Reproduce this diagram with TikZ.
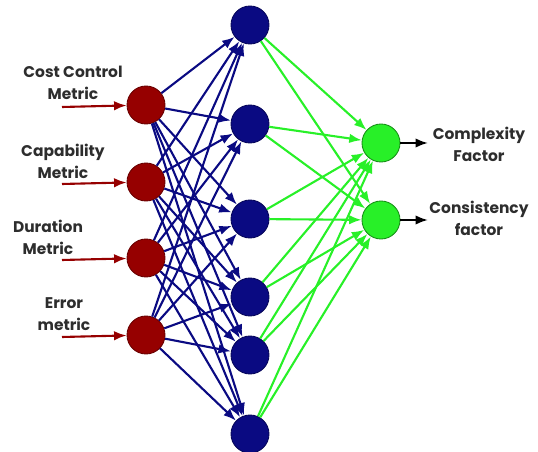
\documentclass[tikz,border=0pt]{standalone}
\usepackage{fontspec}
\newfontfamily\labelfont{Poppins}
\usetikzlibrary{arrows.meta}
\definecolor{inred}{RGB}{150,0,0}
\definecolor{hidblue}{RGB}{10,10,130}
\definecolor{outgreen}{RGB}{40,240,40}
\definecolor{txtgray}{RGB}{45,45,45}

\begin{document}
\begin{tikzpicture}[x=0.02cm, y=-0.02cm,
    neuron/.style={circle, minimum size=0.76cm, inner sep=0pt, line width=0.5pt},
    inneuron/.style={neuron, fill=inred, draw=inred!70!black},
    hidneuron/.style={neuron, fill=hidblue, draw=hidblue!70!black},
    outneuron/.style={neuron, fill=outgreen, draw=outgreen!60!black},
    lbl/.style={align=center, text=txtgray, font=\labelfont\bfseries\fontsize{8.8}{12.5}\selectfont},
    tip/.style={-{Latex[length=2.5mm, width=1.9mm]}, line width=1.2pt}]
  \useasboundingbox (0,0) rectangle (538,452);

  % input layer
  \node[inneuron] (in1) at (146,105) {};
  \node[inneuron] (in2) at (146,182) {};
  \node[inneuron] (in3) at (146,258) {};
  \node[inneuron] (in4) at (146,335) {};

  % hidden layer
  \node[hidneuron] (h1) at (250,25) {};
  \node[hidneuron] (h2) at (250,124) {};
  \node[hidneuron] (h3) at (250,219) {};
  \node[hidneuron] (h4) at (250,297) {};
  \node[hidneuron] (h5) at (250,355) {};
  \node[hidneuron] (h6) at (250,434) {};

  % output layer
  \node[outneuron] (out1) at (381,143) {};
  \node[outneuron] (out2) at (381,220) {};

  \node[lbl] (l1) at (73,83) {Cost Control\\Metric};
  \node[lbl] (l2) at (63,161) {Capability\\Metric};
  \node[lbl] (l3) at (48,237) {Duration\\Metric};
  \node[lbl] (l4) at (64,314) {Error\\metric};
  \node[lbl] (l5) at (479,144) {Complexity\\Factor};
  \node[lbl] (l6) at (479,218) {Consistency\\factor};

  \foreach \i/\y in {1/107,2/184,3/260,4/337} {
    \coordinate (s\i) at (62,\y);
    \draw[tip, inred] (s\i) -- (in\i);
  }
  \foreach \i in {1,...,4}
    \foreach \j in {1,...,6}
      \draw[tip, hidblue] (in\i) -- (h\j);
  \foreach \j in {1,...,6}
    \foreach \k in {1,2}
      \draw[tip, outgreen] (h\j) -- (out\k);

  \coordinate (e1) at (428,143);
  \coordinate (e2) at (428,220);
  \draw[tip, black] (out1) -- (e1);
  \draw[tip, black] (out2) -- (e2);
\end{tikzpicture}
\end{document}
